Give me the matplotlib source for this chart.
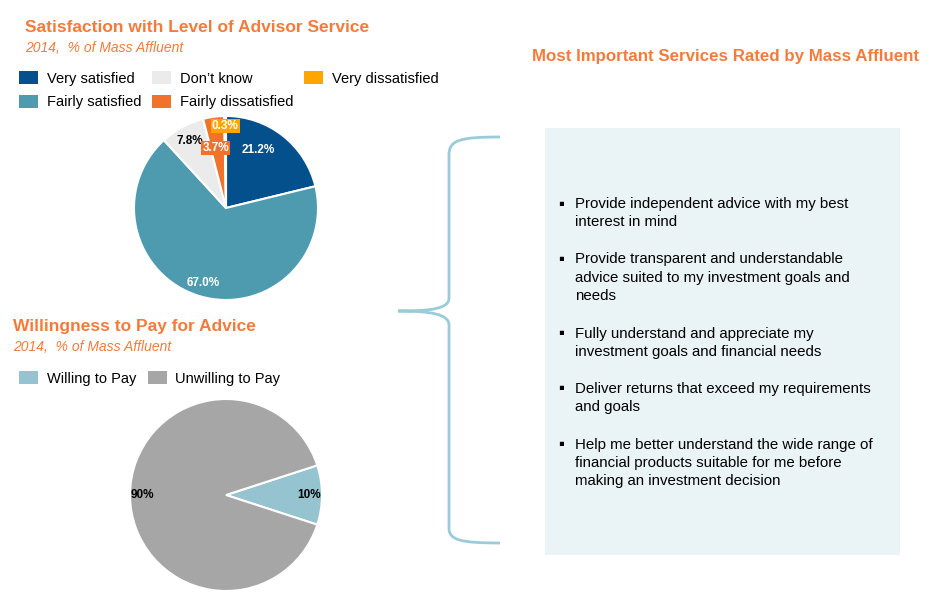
import numpy as np
import matplotlib
matplotlib.use("Agg")
import matplotlib.pyplot as plt
from matplotlib.patches import Rectangle, Patch, PathPatch
from matplotlib.path import Path

plt.rcParams['font.family'] = ['Liberation Sans', 'DejaVu Sans']

# satisfaction data
sat_labels = ["Very satisfied", "Fairly satisfied", "Don\u2019t know",
              "Fairly dissatisfied", "Very dissatisfied"]
sat_values = [21.2, 67.0, 7.8, 3.7, 0.3]
sat_colors = ["#03508C", "#4E9AAF", "#EBEBEB", "#F0722B", "#FFA500"]

# willingness data
pay_labels = ["Willing to Pay", "Unwilling to Pay"]
pay_values = [10, 90]
pay_colors = ["#96C3D0", "#A6A6A6"]

services = [
    ["Provide independent advice with my best", "interest in mind"],
    ["Provide transparent and understandable",
     "advice suited to my investment goals and", "needs"],
    ["Fully understand and appreciate my",
     "investment goals and financial needs"],
    ["Deliver returns that exceed my requirements", "and goals"],
    ["Help me better understand the wide range of",
     "financial products suitable for me before",
     "making an investment decision"],
]

W, H = 944, 609
ORANGE = "#F47B3A"


def fx(x):
    return x / W


def fy(y):
    return 1 - y / H


def pie_axes(fig, cx, cy, r):
    ax = fig.add_axes([fx(cx - r), fy(cy + r), 2 * r / W, 2 * r / H])
    return ax


fig = plt.figure(figsize=(W / 100, H / 100), dpi=100)

# ---- titles
fig.text(fx(25), fy(27), "Satisfaction with Level of Advisor Service", color=ORANGE,
         fontsize=12.5, fontweight="bold", va="center", ha="left")
fig.text(fx(25), fy(48), "2014,  % of Mass Affluent", color=ORANGE,
         fontsize=10, style="italic", va="center", ha="left")
fig.text(fx(13), fy(326), "Willingness to Pay for Advice", color=ORANGE,
         fontsize=12.5, fontweight="bold", va="center", ha="left")
fig.text(fx(13), fy(347), "2014,  % of Mass Affluent", color=ORANGE,
         fontsize=10, style="italic", va="center", ha="left")
fig.text(fx(725), fy(56), "Most Important Services Rated by Mass Affluent", color=ORANGE,
         fontsize=12.2, fontweight="bold", va="center", ha="center")

# ---- pie 1
ax1 = pie_axes(fig, 226, 208, 92)
wedges1, _ = ax1.pie(sat_values, colors=sat_colors, startangle=90, counterclock=False,
                     wedgeprops=dict(edgecolor="white", linewidth=1.5))
ax1.set_xlim(-1, 1)
ax1.set_ylim(-1, 1)
lab_r = [0.72, 0.85, 0.83, 0.66, 0.89]
lab_dang = [9, 0, 0, 2, 0]
for w, v, r, da, c in zip(wedges1, sat_values, lab_r, lab_dang, sat_colors):
    ang = np.deg2rad((w.theta1 + w.theta2) / 2 + da)
    x, y = r * np.cos(ang), r * np.sin(ang)
    txt = "%.1f%%" % v
    if v < 5:
        ax1.text(x, y, txt, ha="center", va="center", fontsize=8.5, fontweight="bold",
                 color="white", bbox=dict(boxstyle="square,pad=0.1", fc=c, ec="none"))
    elif c == "#EBEBEB":
        ax1.text(x, y, txt, ha="center", va="center", fontsize=8.5, fontweight="bold",
                 color="black")
    else:
        ax1.text(x, y, txt, ha="center", va="center", fontsize=8.5, fontweight="bold",
                 color="white")

handles1 = [Patch(facecolor=c, edgecolor="none") for c in sat_colors]
fig.legend(handles1, sat_labels, ncol=3, loc="upper left",
           bbox_to_anchor=(fx(19), fy(71)), frameon=False, fontsize=10.5,
           borderpad=0, borderaxespad=0, handlelength=1.3, handleheight=1.0,
           handletextpad=0.6, columnspacing=0.75, labelspacing=0.62)

# ---- pie 2
ax2 = pie_axes(fig, 226, 495, 96)
wedges2, _, autot = ax2.pie(pay_values, colors=pay_colors, startangle=-18,
                            autopct="%d%%", pctdistance=0.87,
                            wedgeprops=dict(edgecolor="white", linewidth=1.5),
                            textprops=dict(fontsize=8.5, fontweight="bold", color="black"))
ax2.set_xlim(-1, 1)
ax2.set_ylim(-1, 1)

handles2 = [Patch(facecolor=c, edgecolor="none") for c in pay_colors]
fig.legend(handles2, pay_labels, ncol=2, loc="upper left",
           bbox_to_anchor=(fx(19), fy(371)), frameon=False, fontsize=10.5,
           borderpad=0, borderaxespad=0, handlelength=1.3, handleheight=1.0,
           handletextpad=0.6, columnspacing=0.8)

# ---- right box
fig.patches.append(Rectangle((fx(545), fy(555)), (900 - 545) / W, (555 - 128) / H,
                             transform=fig.transFigure, facecolor="#EAF3F6",
                             edgecolor="none", zorder=0))

y = 204
for item in services:
    fig.text(fx(558), fy(y), "\u25aa", fontsize=12, va="center", ha="left", color="black")
    for line in item:
        fig.text(fx(575), fy(y), line, fontsize=10.8, va="center", ha="left", color="black")
        y += 18.5
    y += 18.5

# ---- brace
pts = [(500, 137), (460, 137), (449, 140), (449, 155),
       (449, 298),
       (449, 309), (430, 311), (398, 311),
       (430, 311), (449, 314), (449, 325),
       (449, 528),
       (449, 540), (460, 543), (500, 543)]
codes = [Path.MOVETO, Path.CURVE4, Path.CURVE4, Path.CURVE4,
         Path.LINETO,
         Path.CURVE4, Path.CURVE4, Path.CURVE4,
         Path.CURVE4, Path.CURVE4, Path.CURVE4,
         Path.LINETO,
         Path.CURVE4, Path.CURVE4, Path.CURVE4]
brace = Path([(fx(a), fy(b)) for a, b in pts], codes)
fig.patches.append(PathPatch(brace, transform=fig.transFigure, facecolor="none",
                             edgecolor="#9ACBD9", linewidth=2.0))

fig.savefig("out.png", dpi=100)
